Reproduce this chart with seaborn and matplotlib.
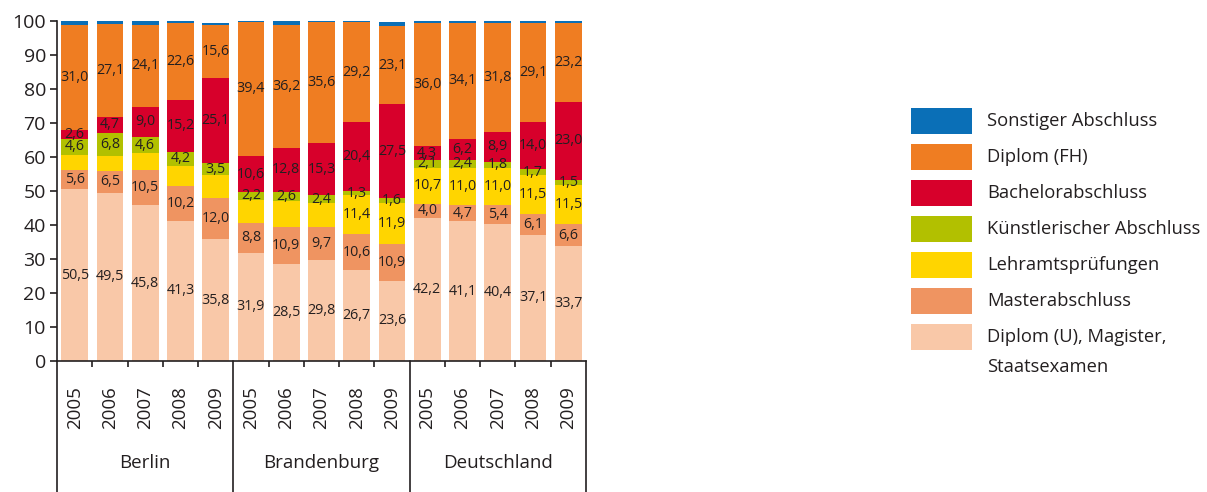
import numpy as np
import pandas as pd
import matplotlib
matplotlib.use("Agg")
import matplotlib.pyplot as plt
import matplotlib.transforms as mtrans
from matplotlib.patches import Rectangle
import seaborn as sns

regions = ["Berlin", "Brandenburg", "Deutschland"]
years = ["2005", "2006", "2007", "2008", "2009"]
categories = ["Sonstiger Abschluss", "Diplom (FH)", "Bachelorabschluss",
              "Künstlerischer Abschluss", "Lehramtsprüfungen", "Masterabschluss",
              "Diplom (U), Magister,\nStaatsexamen"]

sonstige = [1.1, 1.0, 1.1, 0.5, 0.6, 0.3, 1.2, 0.3, 0.6, 1.1, 0.7, 0.5, 0.7, 0.5, 0.5]
diplom_fh = [31.0, 27.1, 24.1, 22.6, 15.6, 39.4, 36.2, 35.6, 29.2, 23.1, 36.0, 34.1, 31.8, 29.1, 23.2]
bachelor = [2.6, 4.7, 9.0, 15.2, 25.1, 10.6, 12.8, 15.3, 20.4, 27.5, 4.3, 6.2, 8.9, 14.0, 23.0]
kuenstler = [4.6, 6.8, 4.6, 4.2, 3.5, 2.2, 2.6, 2.4, 1.3, 1.6, 2.1, 2.4, 1.8, 1.7, 1.5]
lehramt = [4.6, 4.4, 4.9, 5.9, 6.9, 6.8, 7.8, 6.9, 11.4, 11.9, 10.7, 11.0, 11.0, 11.5, 11.5]
master = [5.6, 6.5, 10.5, 10.2, 12.0, 8.8, 10.9, 9.7, 10.6, 10.9, 4.0, 4.7, 5.4, 6.1, 6.6]
diplom_u = [50.5, 49.5, 45.8, 41.3, 35.8, 31.9, 28.5, 29.8, 26.7, 23.6, 42.2, 41.1, 40.4, 37.1, 33.7]

# which segments carry a printed value label
lehramt_labeled = [False] * 8 + [True] * 7

colors = ["#0a6fb7", "#ef7d22", "#d7002b", "#b2c000", "#ffd500", "#ef9461", "#f9c8a8"]
text_color = "#231f20"

series = [sonstige, diplom_fh, bachelor, kuenstler, lehramt, master, diplom_u]
labeled = [[False] * 15, [True] * 15, [True] * 15, [True] * 15, lehramt_labeled,
           [True] * 15, [True] * 15]

n = len(regions) * len(years)
rows = []
for cat, vals in zip(categories, series):
    for i, v in enumerate(vals):
        rows.append({"pos": i, "cat": cat, "value": v})
df = pd.DataFrame(rows)

sns.set_theme(style="ticks")
plt.rcParams["font.family"] = ["Open Sans", "DejaVu Sans"]
plt.rcParams["text.color"] = text_color
plt.rcParams["axes.labelcolor"] = text_color
plt.rcParams["xtick.color"] = text_color
plt.rcParams["ytick.color"] = text_color

W, H = 1207, 492
fig = plt.figure(figsize=(W / 100, H / 100), dpi=100)
ax = fig.add_axes([57 / W, 1 - 361 / H, (586 - 57) / W, (361 - 21) / H])

sns.histplot(data=df, x="pos", weights="value", hue="cat", hue_order=categories,
             multiple="stack", discrete=True, shrink=0.757, palette=colors,
             alpha=1, linewidth=0, edgecolor="none", legend=False, ax=ax)

ax.set_xlim(-0.5, n - 0.5)
ax.set_ylim(0, 100)
ax.set_xlabel("")
ax.set_ylabel("")

# value labels at segment centres (stacked from the bottom)
bottom = np.zeros(n)
for vals, lab in zip(series[::-1], labeled[::-1]):
    vals = np.array(vals)
    for i in range(n):
        if lab[i]:
            ax.text(i, bottom[i] + vals[i] / 2, f"{vals[i]:.1f}".replace(".", ","),
                    ha="center", va="center", fontsize=10.3, color=text_color)
    bottom += vals

# axes styling
for s in ["top", "right"]:
    ax.spines[s].set_visible(False)
for s in ["left", "bottom"]:
    ax.spines[s].set_color(text_color)
    ax.spines[s].set_linewidth(1.2)

ax.set_yticks(range(0, 101, 10))
ax.tick_params(axis="y", length=5, width=1.2, labelsize=14, pad=3)

ax.set_xticks(range(n))
ax.set_xticklabels(years * len(regions), rotation=90, fontsize=13.5)
ax.tick_params(axis="x", which="major", length=0, pad=18)
ax.set_xticks([i + 0.5 for i in range(n - 1) if (i + 1) % 5 != 0], minor=True)
ax.tick_params(axis="x", which="minor", length=4, width=1.2, color=text_color)

trans = mtrans.blended_transform_factory(ax.transData, ax.transAxes)
for b in [-0.5, 4.5, 9.5, 14.5]:
    ax.plot([b, b], [0, -0.39], transform=trans, color=text_color, lw=1.2,
            clip_on=False)
for g, name in enumerate(regions):
    ax.text(g * 5 + 2, -(463 - 361) / 340, name, transform=trans, ha="center",
            va="center", fontsize=13.5)

# legend (patch + label per category, patch aligned with the first text line)
for k, (cat, c) in enumerate(zip(categories, colors)):
    top = 108 + 36 * k
    fig.add_artist(Rectangle((911 / W, 1 - (top + 26) / H), 61 / W, 26 / H,
                             transform=fig.transFigure, facecolor=c,
                             edgecolor="none"))
    for j, line in enumerate(cat.split("\n")):
        fig.text(987 / W, 1 - (top + 13 + 30 * j) / H, line, ha="left",
                 va="center", fontsize=13.2, color=text_color)

fig.savefig("out.png", dpi=100)
